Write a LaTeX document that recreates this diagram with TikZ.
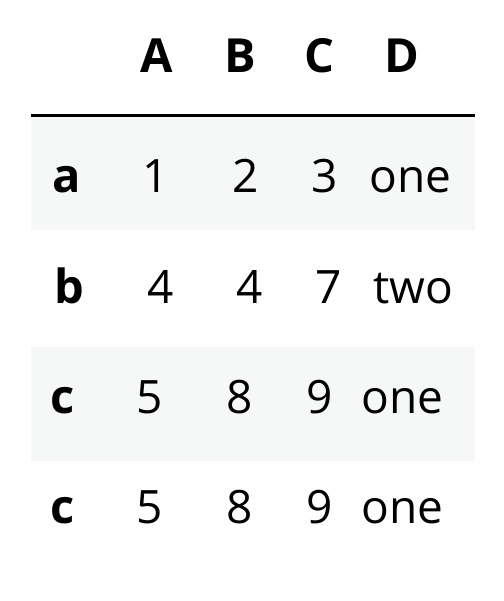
\documentclass[tikz,border=0pt]{standalone}
\usepackage{fontspec}
\setmainfont{Open Sans}
\definecolor{stripe}{RGB}{246,247,247}

\begin{document}
\begin{tikzpicture}[x=1pt,y=-1pt,
        cell/.style={anchor=base,inner sep=0pt,font=\fontsize{46}{50}\selectfont},
        head/.style={cell,font=\fontsize{47}{50}\selectfont\bfseries}]
        \useasboundingbox (0,0) rectangle (503,601);
        % striped rows
        \fill[stripe] (31,117) rectangle (475,230);
        \fill[stripe] (31,347) rectangle (475,461);
        \coordinate (rule_l) at (31,115.5);
        \coordinate (rule_r) at (475,115.5);
        \draw[line width=3pt] (rule_l) -- (rule_r);
        % header
        \node[head] (h_A) at (156.5,73) {A};
        \node[head] (h_B) at (240,73) {B};
        \node[head] (h_C) at (319,73) {C};
        \node[head] (h_D) at (402,73) {D};
        % row a
        \node[head] (r_a) at (67,193) {a};
        \node[cell] (a_A) at (156,193) {1};
        \node[cell] (a_B) at (246,193) {2};
        \node[cell] (a_C) at (325,193) {3};
        \node[cell] (a_D) at (410.5,193) {one};
        % row b
        \node[head] (r_b) at (69,303) {b};
        \node[cell] (b_A) at (160.5,303) {4};
        \node[cell] (b_B) at (249.5,303) {4};
        \node[cell] (b_C) at (329,303) {7};
        \node[cell] (b_D) at (413.5,303) {two};
        % row c
        \node[head] (r_c) at (63,413) {c};
        \node[cell] (c_A) at (150,413) {5};
        \node[cell] (c_B) at (240,413) {8};
        \node[cell] (c_C) at (319.5,413) {9};
        \node[cell] (c_D) at (402.5,413) {one};
        % row c (again)
        \node[head] (r_cc) at (63,523) {c};
        \node[cell] (cc_A) at (150,523) {5};
        \node[cell] (cc_B) at (240,523) {8};
        \node[cell] (cc_C) at (319.5,523) {9};
        \node[cell] (cc_D) at (402.5,523) {one};
\end{tikzpicture}
\end{document}
